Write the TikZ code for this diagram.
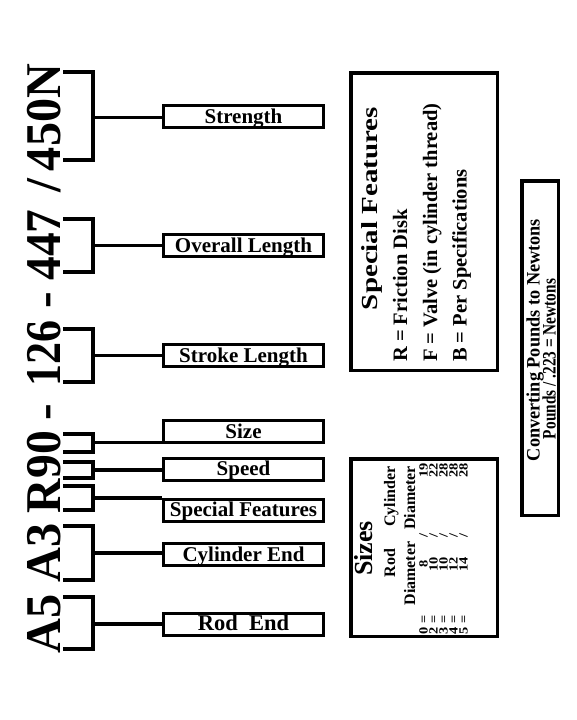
\documentclass[tikz,border=0pt]{standalone}
\usepackage{fontspec}
\setmainfont{Liberation Serif}
\usepackage{graphicx}
\newcommand\fitto[2]{\resizebox{#1}{\height}{#2}}
\begin{document}
\begin{tikzpicture}[x=1pt,y=-1pt,
  lbl/.style={draw, line width=3pt, minimum width=160pt, minimum height=22pt, inner sep=0pt,
    text height=16pt, text depth=3pt, font=\fontsize{21}{21}\selectfont\bfseries},
  br/.style={line width=3.2pt},
  code/.style={rotate=90, anchor=base, inner sep=0pt, font=\fontsize{50}{50}\selectfont\bfseries},
  panel/.style={draw, line width=3.5pt, inner sep=0pt},
  rt/.style={rotate=90, inner sep=0pt, font=\bfseries},
  sf/.style={rt, font=\fontsize{20.5}{20.5}\selectfont\bfseries},
  sz/.style={rt, anchor=base, font=\fontsize{16}{16}\selectfont\bfseries},
  row/.style={rt, anchor=base, font=\fontsize{12.5}{12.5}\selectfont\bfseries},
  cv/.style={rt, anchor=base, font=\fontsize{19}{19}\selectfont\bfseries}]
\fill[white] (0,0) rectangle (576,720);
\useasboundingbox (0,0) rectangle (576,720);

% ---- code string ----
\node[code] (tA5) at (60,623.5) {\fitto{59pt}{A5}};
\node[code] (tA3) at (60,553) {\fitto{59pt}{A3}};
\node[code] (tR90) at (60,472) {\fitto{82pt}{R90}};
\node[code] (td1) at (60,412) {-};
\node[code] (t126) at (60,353.5) {\fitto{66pt}{126}};
\node[code] (td2) at (60,300.5) {-};
\node[code] (t447) at (60,245) {\fitto{71pt}{447}};
\node[code] (tsl) at (60,186) {/};
\node[code] (t450) at (60,117.5) {\fitto{107pt}{450N}};

% ---- label boxes ----
\node[lbl] (strength) at (243.5,116.5) {Strength};
\node[lbl] (overall) at (243.5,245.5) {Overall Length};
\node[lbl] (stroke) at (243.5,355.5) {Stroke Length};
\node[lbl] (size) at (243.5,431.5) {Size};
\node[lbl] (speed) at (243.5,469) {Speed};
\node[lbl] (special) at (243.5,510) {Special Features};
\node[lbl] (cylend) at (243.5,554.5) {Cylinder End};
\node[lbl, font=\fontsize{22.5}{22.5}\selectfont\bfseries] (rodend) at (243.5,624) {Rod\ \ End};

% ---- brackets ----
\draw[br] (63,72) -| (93,160) -- (63,160);
\draw[br] (63,219) -| (93,272) -- (63,272);
\draw[br] (63,329) -| (93,382) -- (63,382);
\draw[br] (63,434) -| (93,452) -- (63,452);
\draw[br] (63,462) -| (93,478) -- (63,478);
\draw[br] (63,486) -| (93,510) -- (63,510);
\draw[br] (63,526) -| (93,580) -- (63,580);
\draw[br] (63,597) -| (93,649) -- (63,649);

\coordinate (m1) at (93,117.5);
\coordinate (m2) at (93,245.5);
\coordinate (m3) at (93,355.5);
\coordinate (m4) at (93,442.5);
\coordinate (m5) at (93,470);
\coordinate (m6) at (93,498);
\coordinate (m7) at (93,553);
\coordinate (m8) at (93,624);

\draw[br] (m1) -- (m1 -| strength.west);
\draw[br] (m2) -- (m2 -| overall.west);
\draw[br] (m3) -- (m3 -| stroke.west);
\draw[br] (m4) -- (m4 -| size.west);
\draw[br] (m5) -- (m5 -| speed.west);
\draw[br] (m6) -- (m6 -| special.west);
\draw[br] (m7) -- (m7 -| cylend.west);
\draw[br] (m8) -- (m8 -| rodend.west);

% ---- special features panel ----
\node[panel, minimum width=146.5pt, minimum height=297.5pt] (sfbox) at (424,221.5) {};
\node[sf, anchor=base, font=\fontsize{23}{23}\selectfont\bfseries] (sft) at (377,208.5) {\fitto{203pt}{Special Features}};
\node[sf, anchor=base west] (sfr) at (407,362) {R = Friction Disk};
\node[sf, anchor=base west] (sff) at (437,362) {F = Valve (in cylinder thread)};
\node[sf, anchor=base west] (sfb) at (466.5,362) {B = Per Specifications};

% ---- sizes panel ----
\node[panel, minimum width=146.5pt, minimum height=177.5pt] (szbox) at (424,547.5) {};
\node[rt, anchor=base, font=\fontsize{26}{26}\selectfont\bfseries] (szt) at (372,548.5) {Sizes};
\node[sz] (szrod) at (395,563) {Rod};
\node[sz] (szdia1) at (415,573.5) {Diameter};
\node[sz] (szcyl) at (395,496.5) {Cylinder};
\node[sz] (szdia2) at (415,498) {Diameter};
\foreach \k/\a/\b [count=\i from 0] in {0/8/19,2/10/22,3/10/28,4/12/28,5/14/28}{
  \node[row] (rk\i) at (427.5+10*\i,625) {\scalebox{1.15}[1]{\k\ =}};
  \node[row] (ra\i) at (427.5+10*\i,564) {\scalebox{1.15}[1]{\a}};
  \node[row] (rs\i) at (427.5+10*\i,535) {\scalebox{1.15}[1]{/}};
  \node[row] (rb\i) at (427.5+10*\i,470) {\scalebox{1.15}[1]{\b}};
}

% ---- converting panel ----
\node[panel, minimum width=36.5pt, minimum height=334.5pt] (cvbox) at (540,348) {};
\node[cv] (cv1) at (539.5,340) {\fitto{242pt}{Converting Pounds to Newtons}};
\node[cv] (cv2) at (555.5,359) {\fitto{160pt}{Pounds / .223 = Newtons}};
\end{tikzpicture}
\end{document}
